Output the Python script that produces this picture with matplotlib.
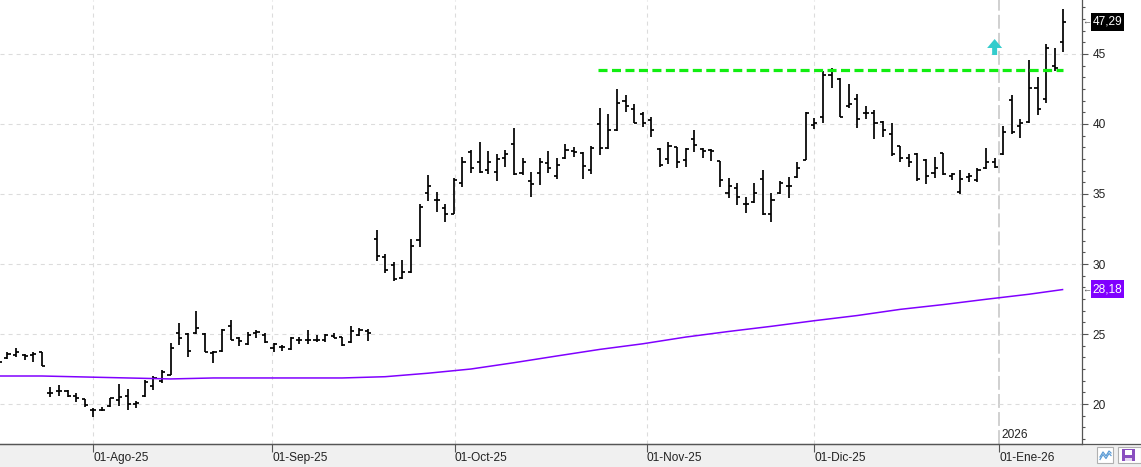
import matplotlib
matplotlib.use('Agg')
import matplotlib.pyplot as plt
from matplotlib.ticker import MultipleLocator, AutoMinorLocator
from matplotlib.patches import Rectangle, Polygon
from matplotlib.lines import Line2D
import matplotlib.transforms as mtransforms

plt.rcParams['lines.scale_dashes'] = False
plt.rcParams['font.family'] = ['Liberation Sans', 'DejaVu Sans']

# ---------------- data (daily OHLC, one entry per trading day) ----------------
opens = [23.1, 23.3, 23.5, 23.5, 23.5, 23.68, 20.8, 20.95, 20.9, 20.55,
         20.34, 19.6, 19.6, 19.85, 20.3, 20.6, 20.0, 20.6, 21.3, 21.65,
         22.1, 25.1, 25.0, 25.05, 25.0, 23.65, 23.8, 25.6, 24.75, 24.3,
         25.05, 24.9, 24.0, 24.1, 23.9, 24.6, 24.6, 24.55, 24.55, 24.85,
         24.8, 24.4, 24.95, 25.2, 31.8, 30.5, 29.9, 29.0, 29.4, 31.7,
         35.05, 34.6, 34.0, 33.6, 35.8, 38.0, 37.25, 36.7, 36.6, 37.55,
         38.55, 36.5, 35.95, 36.5, 37.2, 36.3, 37.55, 38.1, 37.9, 36.7,
         40.0, 38.3, 39.55, 41.65, 41.05, 40.7, 40.25, 38.2, 37.5, 38.35,
         37.45, 38.9, 38.2, 38.15, 37.35, 35.05, 35.45, 34.3, 34.4, 36.05,
         33.55, 35.05, 35.55, 36.2, 37.45, 39.9, 40.5, 43.5, 43.2, 41.25,
         41.8, 40.8, 40.75, 40.15, 39.3, 38.4, 37.55, 37.85, 37.45, 36.5,
         37.9, 36.3, 35.15, 36.2, 36.0, 36.85, 37.3, 37.85, 41.7, 39.85,
         40.15, 42.6, 41.75, 44.15, 45.85]
highs = [23.3, 23.74, 23.98, 23.6, 23.74, 23.72, 21.19, 21.36, 21.0, 20.76,
         20.38, 19.69, 19.76, 20.45, 21.41, 21.05, 20.21, 21.71, 22.0, 22.43,
         24.38, 25.8, 25.05, 26.64, 25.05, 23.8, 25.33, 25.98, 24.81, 25.12,
         25.29, 25.05, 24.33, 24.21, 24.81, 24.81, 25.29, 24.93, 25.0, 25.05,
         24.81, 25.57, 25.45, 25.36, 32.43, 30.71, 30.17, 30.29, 31.79, 34.26,
         36.36, 35.17, 34.26, 36.12, 37.67, 38.14, 38.74, 38.07, 37.83, 38.14,
         39.69, 37.55, 36.55, 37.55, 38.07, 37.55, 38.57, 38.38, 38.02, 38.43,
         41.12, 40.71, 42.48, 42.07, 41.41, 40.83, 40.52, 38.26, 38.74, 38.38,
         38.26, 39.57, 38.26, 38.21, 37.38, 36.12, 35.76, 34.81, 35.81, 36.71,
         35.05, 35.95, 36.19, 37.31, 40.85, 40.4, 43.81, 43.98, 43.26, 42.86,
         42.14, 41.31, 41.0, 40.2, 40.05, 38.45, 37.86, 37.9, 37.5, 37.67,
         37.92, 36.52, 36.71, 36.48, 36.83, 38.26, 37.55, 39.86, 42.07, 40.33,
         44.57, 43.33, 45.71, 45.4, 48.19]
lows = [22.9, 23.21, 23.33, 23.17, 23.02, 22.7, 20.48, 20.6, 20.48, 20.17,
        19.81, 19.1, 19.5, 19.81, 19.86, 19.57, 19.74, 20.52, 21.0, 21.48,
        22.07, 24.21, 23.33, 25.0, 23.69, 22.91, 23.74, 24.57, 24.17, 24.21,
        24.69, 24.38, 23.74, 23.81, 23.86, 24.26, 24.29, 24.41, 24.41, 24.74,
        24.17, 24.33, 24.86, 24.52, 30.24, 29.38, 28.81, 28.93, 29.33, 31.24,
        34.52, 33.74, 33.02, 33.55, 35.48, 36.48, 36.48, 36.41, 35.95, 36.9,
        36.36, 36.36, 34.76, 35.64, 36.48, 36.07, 37.5, 37.67, 36.07, 36.43,
        37.79, 38.21, 39.52, 40.88, 40.08, 39.81, 39.05, 36.9, 37.12, 36.83,
        36.95, 37.98, 37.55, 37.38, 35.48, 34.69, 34.21, 33.62, 34.38, 33.5,
        32.98, 35.0, 34.69, 36.15, 37.4, 39.64, 40.05, 42.6, 40.48, 41.17,
        39.69, 40.33, 38.9, 39.1, 37.7, 37.31, 36.95, 35.95, 35.69, 36.12,
        36.36, 36.0, 34.98, 35.88, 35.83, 36.8, 36.88, 37.8, 39.29, 38.98,
        40.1, 40.64, 41.52, 43.81, 45.17]
closes = [23.0, 23.55, 23.7, 23.4, 23.6, 22.75, 20.8, 20.9, 20.55, 20.45,
          19.9, 19.55, 19.6, 20.4, 20.5, 20.0, 20.1, 21.6, 21.85, 22.3,
          24.0, 24.7, 23.8, 25.4, 23.7, 23.75, 25.3, 24.6, 24.5, 24.9,
          25.15, 24.45, 24.3, 24.05, 24.7, 24.6, 24.6, 24.6, 24.9, 24.75,
          24.2, 25.2, 25.3, 25.05, 30.6, 29.6, 28.9, 29.4, 31.3, 34.05,
          35.6, 34.6, 33.6, 36.0, 37.3, 36.85, 36.6, 37.25, 37.5, 37.85,
          36.4, 37.25, 35.7, 37.25, 36.85, 37.1, 38.15, 38.0, 37.0, 38.25,
          38.25, 39.55, 41.5, 41.3, 40.1, 40.05, 39.6, 37.1, 38.4, 37.3,
          38.2, 38.5, 38.1, 38.05, 36.0, 35.55, 34.75, 34.3, 35.1, 33.6,
          34.55, 35.8, 35.6, 36.85, 40.8, 40.1, 43.5, 43.75, 40.5, 41.45,
          40.35, 40.8, 40.1, 39.55, 37.85, 37.55, 37.3, 36.1, 36.3, 36.85,
          36.4, 36.45, 36.1, 36.25, 36.7, 37.3, 36.9, 39.4, 39.4, 40.05,
          42.6, 41.1, 45.45, 44.0, 47.29]

# moving average (bar index -> value)
ma_idx = [0, 5, 10, 15, 20, 25, 30, 35, 40, 45, 50, 55, 60, 65, 70,
          75, 80, 85, 90, 95, 100, 105, 110, 115, 120, 124]
ma_val = [22.0, 22.0, 21.93, 21.86, 21.79, 21.86, 21.86, 21.86, 21.86, 21.95,
          22.2, 22.5, 22.95, 23.43, 23.9, 24.3, 24.78, 25.18, 25.55, 25.95,
          26.32, 26.76, 27.1, 27.48, 27.84, 28.18]

month_labels = ['01-Ago-25', '01-Sep-25', '01-Oct-25', '01-Nov-25', '01-Dic-25', '01-Ene-26']
month_pos = [11.02, 31.82, 53.13, 75.5, 95.0, 116.55]
year_label = '2026'

resistance = 43.85
resistance_from = 69.8
resistance_to = 124.0

last_label = '47,29'
ma_last = 28.18
ma_label = '28,18'

signal_x = 116.0
signal_tip = 46.07
signal_base = 44.93

# ---------------- figure ----------------
W, H = 1141, 467
fig = plt.figure(figsize=(W / 100, H / 100), dpi=100)
fig.patch.set_facecolor('white')

BAND = 23
AXR = 1081.5
FS = 8.6
ax = fig.add_axes([0, BAND / H, AXR / W, (H - BAND) / H])
ax.set_facecolor('white')

# bottom grey band
fig.add_artist(Rectangle((0, 0), 1, BAND / H, transform=fig.transFigure,
                         facecolor='#f0f0f0', edgecolor='none', zorder=-5))
fig.add_artist(Line2D([0, 1], [BAND / H, BAND / H], transform=fig.transFigure,
                      color='#555555', lw=0.9, zorder=2))

n = len(opens)
xs = list(range(n))
tk = 0.36
ax.vlines(xs, lows, highs, color='black', lw=1.25, zorder=3, capstyle='butt')
ax.hlines(opens, [i - tk for i in xs], xs, color='black', lw=1.25, zorder=3)
ax.hlines(closes, xs, [i + tk for i in xs], color='black', lw=1.25, zorder=3)

ax.plot(ma_idx, ma_val, color='#8000ff', lw=1.1, zorder=4, solid_capstyle='butt')

ax.plot([resistance_from, resistance_to], [resistance, resistance], color='#11ee11',
        lw=2.3, ls=(0, (6.5, 3.2)), zorder=5, solid_capstyle='butt', dash_capstyle='butt')

# signal arrow
hw, sw, hl = 0.874, 0.29, 0.64
ax.add_patch(Polygon([(signal_x - sw, signal_base), (signal_x - sw, signal_tip - hl),
                      (signal_x - hw, signal_tip - hl), (signal_x, signal_tip),
                      (signal_x + hw, signal_tip - hl), (signal_x + sw, signal_tip - hl),
                      (signal_x + sw, signal_base)], closed=True,
                     facecolor='#33cccc', edgecolor='none', zorder=6))

ax.set_xlim(0.128, 126.12)
ax.set_ylim(17.143, 48.857)

# grid
ax.yaxis.set_major_locator(MultipleLocator(5))
ax.yaxis.set_minor_locator(AutoMinorLocator(6))
ax.yaxis.grid(True, which='major', color='#dcdcdc', lw=0.8, linestyle=(0, (2.9, 2.9)))
ax.set_axisbelow(True)
for p in month_pos[:-1]:
    ax.axvline(p, color='#dcdcdc', lw=0.8, ls=(0, (2.9, 2.9)), zorder=0)
ax.axvline(month_pos[-1], color='#c4c4c4', lw=1.1, ls=(0, (10, 3)), zorder=0)

# axes / ticks
for s in ['left', 'top']:
    ax.spines[s].set_visible(False)
ax.spines['right'].set_color('#555555')
ax.spines['right'].set_linewidth(0.9)
ax.spines['bottom'].set_color('#555555')
ax.spines['bottom'].set_linewidth(0.9)

ax.yaxis.tick_right()
ax.tick_params(axis='y', which='major', length=4, width=0.8, color='#555555', pad=4,
               labelsize=FS, labelcolor='#222222')
ax.tick_params(axis='y', which='minor', length=2.5, width=0.8, color='#555555')
ax.yaxis.set_major_formatter(matplotlib.ticker.FuncFormatter(lambda v, p: f'{v:.0f}'))

ax.set_xticks(month_pos)
ax.set_xticklabels(month_labels, ha='left')
ax.tick_params(axis='x', which='major', length=5.5, width=0.8, color='#555555', pad=0.3,
               labelsize=FS, labelcolor='#222222')

ax.annotate(year_label, xy=(month_pos[-1], 0), xycoords=('data', 'axes fraction'),
            xytext=(1.5, 6.2), textcoords='offset points', ha='left', va='center',
            fontsize=FS, color='#222222')

# price labels at right
trans = mtransforms.blended_transform_factory(fig.transFigure, ax.transData)
for val, txt, fc in [(closes[-1], last_label, 'black'), (ma_last, ma_label, '#8000ff')]:
    fig.add_artist(Rectangle((1091 / W, val - 9 / 14), 33 / W, 18 / 14, transform=trans,
                             facecolor=fc, edgecolor='none', zorder=6))
    fig.text(1107.5 / W, val, txt, transform=trans, ha='center', va='center',
             color='white', fontsize=FS, zorder=7)
    fig.text(1082.5 / W, val, '\u2190', transform=trans, ha='left', va='center',
             color='#555555', fontsize=6.5, zorder=7)


def fp(x, y):
    return (x / W, 1 - y / H)


# small buttons bottom-right
fig.add_artist(Rectangle(fp(1097, 463), 16 / W, 16 / H, transform=fig.transFigure,
                         facecolor='white', edgecolor='#b0b0b0', lw=0.8, zorder=3))
for dy in (0, 2.5):
    zx = [1100, 1103, 1106, 1109, 1111]
    zy = [457 + dy, 452 + dy, 456 + dy, 451 + dy, 453 + dy]
    fig.add_artist(Line2D([a / W for a in zx], [1 - b / H for b in zy],
                          transform=fig.transFigure, color='#5b9bd5', lw=0.9, zorder=4))
fig.add_artist(Rectangle(fp(1118, 463), 23 / W, 16 / H, transform=fig.transFigure,
                         facecolor='white', edgecolor='#b0b0b0', lw=0.8, zorder=3))
fig.add_artist(Rectangle(fp(1122, 461), 13 / W, 12 / H, transform=fig.transFigure,
                         facecolor='#8a4fc0', edgecolor='none', zorder=4))
fig.add_artist(Rectangle(fp(1125, 455), 7 / W, 5 / H, transform=fig.transFigure,
                         facecolor='white', edgecolor='none', zorder=5))
fig.add_artist(Rectangle(fp(1125, 461), 7 / W, 3 / H, transform=fig.transFigure,
                         facecolor='#e6d8f2', edgecolor='none', zorder=5))

fig.savefig('out.png', dpi=100, facecolor='white')
